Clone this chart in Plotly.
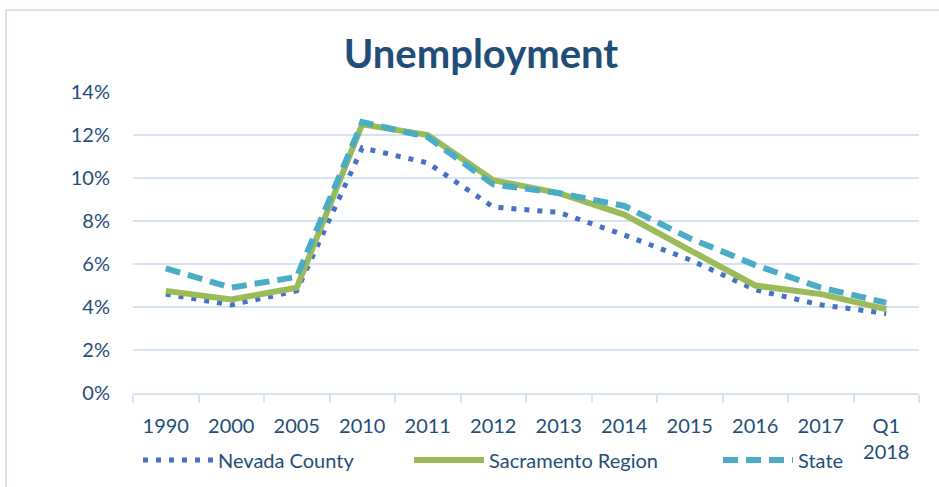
import plotly.graph_objects as go

categories = ["1990", "2000", "2005", "2010", "2011", "2012", "2013", "2014", "2015", "2016", "2017", "Q1<br>2018"]
nevada_county = [4.6, 4.1, 4.75, 11.4, 10.7, 8.65, 8.4, 7.35, 6.2, 4.8, 4.1, 3.7]
sacramento_region = [4.75, 4.35, 4.9, 12.5, 12.0, 9.9, 9.3, 8.3, 6.65, 5.0, 4.6, 3.9]
state = [5.8, 4.9, 5.4, 12.6, 11.9, 9.7, 9.3, 8.7, 7.2, 5.95, 4.9, 4.2]
y_ticks = [0, 2, 4, 6, 8, 10, 12, 14]
y_tick_labels = ["0%", "2%", "4%", "6%", "8%", "10%", "12%", "14%"]

text_color = "#1f4e79"
grid_color = "#d6e3f3"
font_family = "Lato, sans-serif"

W, H = 939, 487
L, R, T, B = 133, 919, 92, 393
PW, PH = R - L, B - T


def px(x):
    return (x - L) / PW


def py(y):
    return (B - y) / PH


fig = go.Figure()
fig.add_trace(go.Scatter(x=categories, y=nevada_county, name="Nevada County", mode="lines",
                         line=dict(color="#4472c4", width=5, dash="5px,8px"), legend="legend"))
fig.add_trace(go.Scatter(x=categories, y=sacramento_region, name="Sacramento Region", mode="lines",
                         line=dict(color="#9bbb59", width=6), legend="legend2"))
fig.add_trace(go.Scatter(x=categories, y=state, name="State", mode="lines",
                         line=dict(color="#4bacc6", width=6, dash="15px,8px"), legend="legend3"))

leg_common = dict(orientation="h", yanchor="middle", xanchor="left",
                  xref="container", yref="container", y=1 - 460 / H,
                  font=dict(size=20, color=text_color, family=font_family),
                  bgcolor="rgba(0,0,0,0)", itemwidth=70)

fig.update_layout(
    width=W, height=H,
    margin=dict(l=L, r=W - R, t=T, b=H - B, autoexpand=False),
    paper_bgcolor="white", plot_bgcolor="white",
    font=dict(family=font_family, color=text_color, size=20),
    title=dict(text="<b>Unemployment</b>", xref="container", x=481 / W, xanchor="center",
               yref="container", y=1 - 54 / H, yanchor="middle",
               font=dict(size=40, color=text_color, family=font_family)),
    showlegend=True,
    legend=dict(leg_common, x=138 / W),
    legend2=dict(leg_common, x=409 / W),
    legend3=dict(leg_common, x=718 / W),
    shapes=[dict(type="line", xref="paper", yref="paper",
                 x0=px(6), x1=px(945), y0=py(10), y1=py(10),
                 line=dict(color="#d4e1f1", width=2)),
            dict(type="line", xref="paper", yref="paper",
                 x0=px(6), x1=px(6), y0=py(10), y1=py(495),
                 line=dict(color="#d4e1f1", width=2))],
)
fig.update_xaxes(type="category", showgrid=False, showline=True, linecolor=grid_color, linewidth=2,
                 ticks="outside", tickson="boundaries", ticklen=8, tickcolor=grid_color, tickwidth=1.5,
                 tickfont=dict(size=20, color=text_color), range=[-0.5, 11.5], automargin=False,
                 ticklabelstandoff=14)
fig.update_yaxes(range=[0, 14], tickvals=y_ticks, ticktext=y_tick_labels, showgrid=True,
                 gridcolor=grid_color, gridwidth=1.5, zeroline=False, showline=False,
                 ticks="", tickfont=dict(size=20, color=text_color), ticklabelstandoff=22,
                 automargin=False)

fig.write_html("out.html", config={"displayModeBar": False},
               post_script="document.body.style.margin='0';")
